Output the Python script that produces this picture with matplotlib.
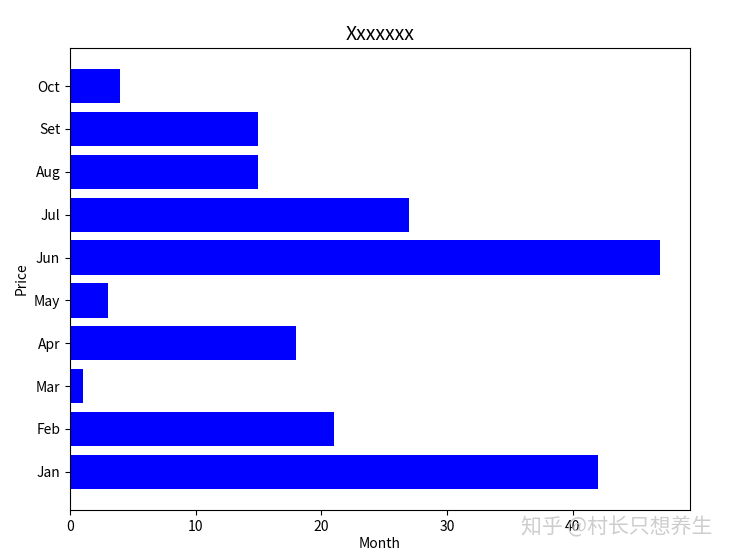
import matplotlib
matplotlib.use("Agg")
import matplotlib.pyplot as plt

months = ["Jan", "Feb", "Mar", "Apr", "May", "Jun", "Jul", "Aug", "Set", "Oct"]
prices = [42, 21, 1, 18, 3, 47, 27, 15, 15, 4]

plt.rcParams['font.family'] = ['Noto Sans CJK SC', 'DejaVu Sans']

fig = plt.figure(figsize=(7.34, 5.58), dpi=100)
ax = fig.add_axes([70/734, 1-510/558, 620/734, 462/558])
ax.barh(months, prices, color='blue')
ax.set_title("Xxxxxxx", fontsize=14)
ax.set_xlabel("Month", fontsize=10, labelpad=2)
ax.set_ylabel("Price", fontsize=10)
ax.tick_params(labelsize=10)

fig.text(617/734, 1-527/558, "知乎 @村长只想养生", fontsize=15, color='#c8c8c8',
         ha='center', va='center', alpha=0.9)

fig.savefig("out.png", dpi=100)
